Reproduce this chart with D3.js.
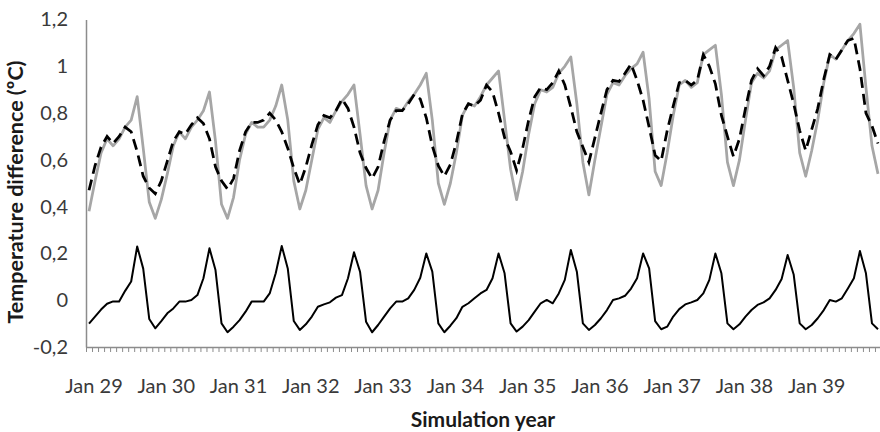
<!DOCTYPE html>
<html>
<head>
<meta charset="utf-8">
<script src="https://cdn.jsdelivr.net/npm/d3@7"></script>
<style>
  body { margin: 0; background: #fff; }
  text { font-family: Lato, "Open Sans", sans-serif; }
</style>
</head>
<body>
<div id="chart"></div>
<script>
const years = ["29", "30", "31", "32", "33", "34", "35", "36", "37", "38", "39"];
const monthNames = ["Jan", "Feb", "Mar", "Apr", "May", "Jun", "Jul", "Aug", "Sep", "Oct", "Nov", "Dec"];
const yTicks = [-0.2, 0, 0.2, 0.4, 0.6, 0.8, 1, 1.2];

// grey solid line
const greySeries = [
  0.38, 0.51, 0.63, 0.69, 0.66, 0.69, 0.74, 0.77, 0.87, 0.65, 0.42, 0.35,
  0.43, 0.54, 0.66, 0.72, 0.69, 0.74, 0.77, 0.81, 0.89, 0.68, 0.41, 0.35,
  0.44, 0.60, 0.71, 0.76, 0.74, 0.74, 0.77, 0.83, 0.92, 0.77, 0.51, 0.39,
  0.47, 0.60, 0.73, 0.78, 0.76, 0.81, 0.85, 0.88, 0.92, 0.71, 0.49, 0.39,
  0.47, 0.63, 0.77, 0.82, 0.81, 0.85, 0.88, 0.92, 0.97, 0.77, 0.50, 0.41,
  0.50, 0.63, 0.79, 0.84, 0.83, 0.87, 0.92, 0.95, 0.98, 0.77, 0.56, 0.43,
  0.55, 0.71, 0.84, 0.90, 0.89, 0.91, 0.97, 1.00, 1.04, 0.84, 0.59, 0.45,
  0.60, 0.74, 0.88, 0.93, 0.92, 0.96, 0.99, 1.01, 1.06, 0.86, 0.55, 0.49,
  0.63, 0.79, 0.92, 0.94, 0.91, 0.93, 1.05, 1.07, 1.09, 0.88, 0.59, 0.49,
  0.60, 0.77, 0.93, 0.97, 0.95, 0.98, 1.07, 1.09, 1.11, 0.91, 0.63, 0.53,
  0.64, 0.77, 0.93, 1.05, 1.03, 1.07, 1.11, 1.14, 1.18, 0.91, 0.66, 0.54
];

// black dashed line
const dashedSeries = [
  0.47, 0.575, 0.655, 0.70, 0.67, 0.70, 0.74, 0.72, 0.635, 0.53, 0.48, 0.455,
  0.51, 0.595, 0.68, 0.72, 0.71, 0.75, 0.78, 0.755, 0.69, 0.57, 0.51, 0.475,
  0.52, 0.64, 0.72, 0.76, 0.76, 0.77, 0.80, 0.77, 0.72, 0.65, 0.565, 0.495,
  0.57, 0.665, 0.75, 0.79, 0.78, 0.81, 0.86, 0.82, 0.74, 0.63, 0.565, 0.52,
  0.57, 0.68, 0.77, 0.81, 0.81, 0.84, 0.88, 0.86, 0.78, 0.66, 0.575, 0.53,
  0.58, 0.675, 0.795, 0.84, 0.83, 0.855, 0.92, 0.89, 0.80, 0.695, 0.635, 0.555,
  0.65, 0.77, 0.87, 0.91, 0.90, 0.93, 0.98, 0.92, 0.825, 0.72, 0.655, 0.59,
  0.695, 0.80, 0.90, 0.94, 0.935, 0.97, 1.01, 0.94, 0.855, 0.74, 0.62, 0.595,
  0.725, 0.83, 0.93, 0.94, 0.92, 0.94, 1.05, 1.00, 0.925, 0.79, 0.70, 0.615,
  0.69, 0.82, 0.94, 0.99, 0.96, 1.00, 1.08, 1.04, 0.94, 0.84, 0.725, 0.64,
  0.73, 0.82, 0.945, 1.05, 1.03, 1.07, 1.11, 1.12, 0.99, 0.80, 0.745, 0.67
];

// black solid line (difference)
const diffSeries = [
  -0.10, -0.07, -0.04, -0.015, -0.005, -0.005, 0.04, 0.08, 0.23, 0.135, -0.08, -0.12,
  -0.089, -0.056, -0.035, -0.006, -0.006, 0.001, 0.022, 0.094, 0.222, 0.129, -0.099, -0.137,
  -0.113, -0.085, -0.049, -0.006, -0.006, -0.006, 0.029, 0.115, 0.232, 0.136, -0.089, -0.127,
  -0.103, -0.07, -0.028, -0.018, -0.009, 0.011, 0.022, 0.094, 0.205, 0.122, -0.092, -0.137,
  -0.106, -0.07, -0.035, -0.006, -0.006, 0.008, 0.044, 0.096, 0.2, 0.122, -0.099, -0.137,
  -0.109, -0.077, -0.028, -0.013, 0.008, 0.029, 0.044, 0.094, 0.2, 0.115, -0.099, -0.134,
  -0.113, -0.085, -0.049, -0.013, 0.001, -0.013, 0.029, 0.087, 0.215, 0.122, -0.099, -0.127,
  -0.106, -0.077, -0.042, 0.001, 0.008, 0.019, 0.05, 0.094, 0.2, 0.136, -0.089, -0.124,
  -0.113, -0.07, -0.038, -0.018, -0.009, 0.001, 0.029, 0.087, 0.2, 0.115, -0.099, -0.124,
  -0.103, -0.07, -0.042, -0.02, -0.009, 0.008, 0.044, 0.091, 0.193, 0.11, -0.099, -0.124,
  -0.106, -0.077, -0.042, 0.001, -0.006, 0.008, 0.05, 0.094, 0.21, 0.115, -0.099, -0.124
];

const categories = years.flatMap(yr => monthNames.map(m => m + " " + yr));

const width = 880, height = 432;
const plotLeft = 86, plotRight = 881, plotTop = 19.5, plotBottom = 347;
const axisColor = "#8c8c8c";

const svg = d3.select("#chart")
    .append("svg")
    .attr("width", width)
    .attr("height", height);

const x = d3.scaleBand()
    .domain(categories)
    .range([plotLeft, plotRight]);

// tick marks sit between the categories
const xTick = d3.scaleLinear()
    .domain([0, categories.length])
    .range([plotLeft, plotRight]);

const y = d3.scaleLinear()
    .domain([-0.2, 1.2])
    .range([plotBottom, plotTop]);

const fmt = d3.formatLocale({
    decimal: ",", thousands: ".", grouping: [3], currency: ["", ""], minus: "-"
}).format("~g");

// y axis
const yAxis = svg.append("g")
    .attr("transform", `translate(${plotLeft},0)`)
    .call(d3.axisLeft(y).tickValues(yTicks).tickSize(0).tickPadding(18).tickFormat(fmt));
yAxis.select(".domain").attr("stroke", axisColor).attr("stroke-width", 1.5);
yAxis.selectAll("text")
    .style("font-size", "20px")
    .attr("fill", "#3a3a3a");

// x axis: monthly tick marks
const xTicks = svg.append("g")
    .attr("transform", `translate(0,${plotBottom})`)
    .call(d3.axisBottom(xTick).tickValues(d3.range(categories.length + 1)).tickSize(5).tickSizeOuter(0).tickFormat(""));
xTicks.select(".domain").attr("stroke", axisColor).attr("stroke-width", 1.5);
xTicks.selectAll(".tick line").attr("stroke", axisColor).attr("stroke-width", 1);

// x axis: yearly labels
const xLabels = svg.append("g")
    .attr("transform", `translate(5,${plotBottom})`)
    .call(d3.axisBottom(x).tickValues(categories.filter((c, i) => i % 12 === 0)).tickSize(0).tickPadding(32));
xLabels.select(".domain").remove();
xLabels.selectAll("text")
    .style("font-size", "20px")
    .attr("fill", "#3a3a3a");

const line = d3.line()
    .x((d, i) => x(categories[i]) + x.bandwidth() / 2)
    .y(d => y(d));

svg.append("path")
    .datum(greySeries)
    .attr("fill", "none")
    .attr("stroke", "#a6a6a6")
    .attr("stroke-width", 2.75)
    .attr("stroke-linejoin", "round")
    .attr("d", line);

svg.append("path")
    .datum(dashedSeries)
    .attr("fill", "none")
    .attr("stroke", "#000")
    .attr("stroke-width", 2.75)
    .attr("stroke-dasharray", "11,6")
    .attr("d", line);

svg.append("path")
    .datum(diffSeries)
    .attr("fill", "none")
    .attr("stroke", "#000")
    .attr("stroke-width", 2)
    .attr("stroke-linejoin", "round")
    .attr("d", line);

// axis titles
svg.append("text")
    .attr("x", 483)
    .attr("y", 427)
    .attr("text-anchor", "middle")
    .style("font-size", "21px")
    .style("font-weight", "bold")
    .attr("fill", "#1a1a1a")
    .text("Simulation year");

svg.append("text")
    .attr("transform", "translate(23,192) rotate(-90)")
    .attr("text-anchor", "middle")
    .style("font-size", "21.5px")
    .style("font-weight", "bold")
    .attr("fill", "#1a1a1a")
    .text("Temperature difference (ºC)");
</script>
</body>
</html>
